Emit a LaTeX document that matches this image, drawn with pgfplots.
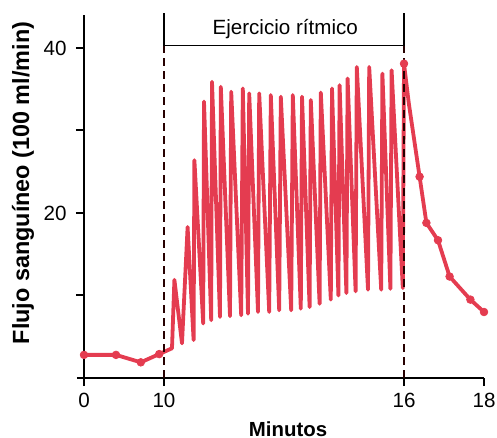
\documentclass[border=0pt]{standalone}
\usepackage{fontspec}
\setmainfont{Liberation Sans}
\usepackage{pgfplots}
\usepackage{pgfplotstable}
\pgfplotsset{compat=1.18}
\definecolor{flujo}{RGB}{228,60,80}

% t = minutes, f = blood flow (100 ml/min)
\pgfplotstableread{
t f
0 2.8
4.0 2.8
7.1 1.9
9.4 2.9
10.2 3.6
10.26 11.9
10.45 4.2
10.59 18.3
10.74 4.6
10.76 26.4
10.98 6.6
11.0 33.5
11.18 7.0
11.2 35.9
11.4 7.4
11.42 35.3
11.65 7.5
11.68 34.7
11.93 7.6
11.97 35.1
12.1 7.8
12.13 34.5
12.35 8.0
12.38 34.5
12.63 8.0
12.67 34.3
12.88 8.2
12.92 34.1
13.18 8.2
13.22 34.3
13.42 8.4
13.45 34.1
13.64 8.6
13.67 33.7
13.89 9.0
13.92 34.6
14.17 9.5
14.2 35.1
14.36 10.0
14.39 35.5
14.56 10.3
14.59 36.3
14.79 10.5
14.82 37.7
15.1 10.7
15.13 37.7
15.43 10.7
15.46 36.9
15.66 10.8
15.69 37.3
15.97 10.9
16.0 38.1
16.12 33.3
16.39 24.4
16.56 18.8
16.85 16.7
17.14 12.3
17.66 9.5
18.0 8.0
}\flujotable

\pgfplotstableread{
t f
0 2.8
4.0 2.8
7.1 1.9
9.4 2.9
16.0 38.1
16.39 24.4
16.56 18.8
16.85 16.7
17.14 12.3
17.66 9.5
18.0 8.0
}\marcastable

\begin{document}
\begin{tikzpicture}
\begin{axis}[
  x=20pt, y=4.125pt,
  xmin=0, xmax=10, ymin=0, ymax=44,
  axis lines=left,
  axis line style={-, line width=1.2pt},
  xtick={0,2,8,10}, xticklabels={0,10,16,18},
  ytick={10,20,30,40}, yticklabels={,20,,40},
  tick align=outside,
  major tick length=4pt,
  tick style={line width=1pt, black},
  tick label style={font=\fontsize{10.3}{12}\selectfont},
  yticklabel style={xshift=-1.2pt},
  /pgf/number format/assume math mode=true,
  xlabel={\bfseries Minutos},
  ylabel={\bfseries Flujo sanguíneo (100 ml/min)},
  xlabel style={at={(axis description cs:0.51,-0.14)}, anchor=center, font=\fontsize{10.2}{12}\selectfont},
  ylabel style={at={(axis description cs:-0.1525,0.537)}, anchor=center, font=\fontsize{11.7}{12}\selectfont},
  clip=false,
]
% minutes 0-10 compressed to 0-2, then 1 unit per minute
\addplot[flujo, line width=1.9pt, line join=round]
  table[x expr={\thisrow{t}<=10 ? \thisrow{t}/5 : \thisrow{t}-8}, y=f] {\flujotable};
\addplot[only marks, mark=*, mark size=1.9pt, flujo]
  table[x expr={\thisrow{t}<=10 ? \thisrow{t}/5 : \thisrow{t}-8}, y=f] {\marcastable};
\draw[black!85!red, line width=0.7pt, dash pattern=on 4pt off 2.5pt] (axis cs:2,0) -- (axis cs:2,40.3);
\draw[black!85!red, line width=0.7pt, dash pattern=on 4pt off 2.5pt] (axis cs:8,0) -- (axis cs:8,40.3);
\draw[black, line width=0.8pt] (axis cs:2,44.2) -- (axis cs:2,40.3) -- (axis cs:8,40.3) -- (axis cs:8,44.2);
\node[font=\fontsize{10.3}{12}\selectfont] at (axis cs:5.03,42.3) {Ejercicio rítmico};
\draw[black, line width=1.2pt] (axis cs:-0.18,0) -- (axis cs:0,0);
\coordinate (O) at (axis cs:0,0);
\end{axis}
\pgfresetboundingbox
\path[use as bounding box] (O) ++(-42pt,-30pt) rectangle ++(248.5pt,219pt);
\end{tikzpicture}
\end{document}
